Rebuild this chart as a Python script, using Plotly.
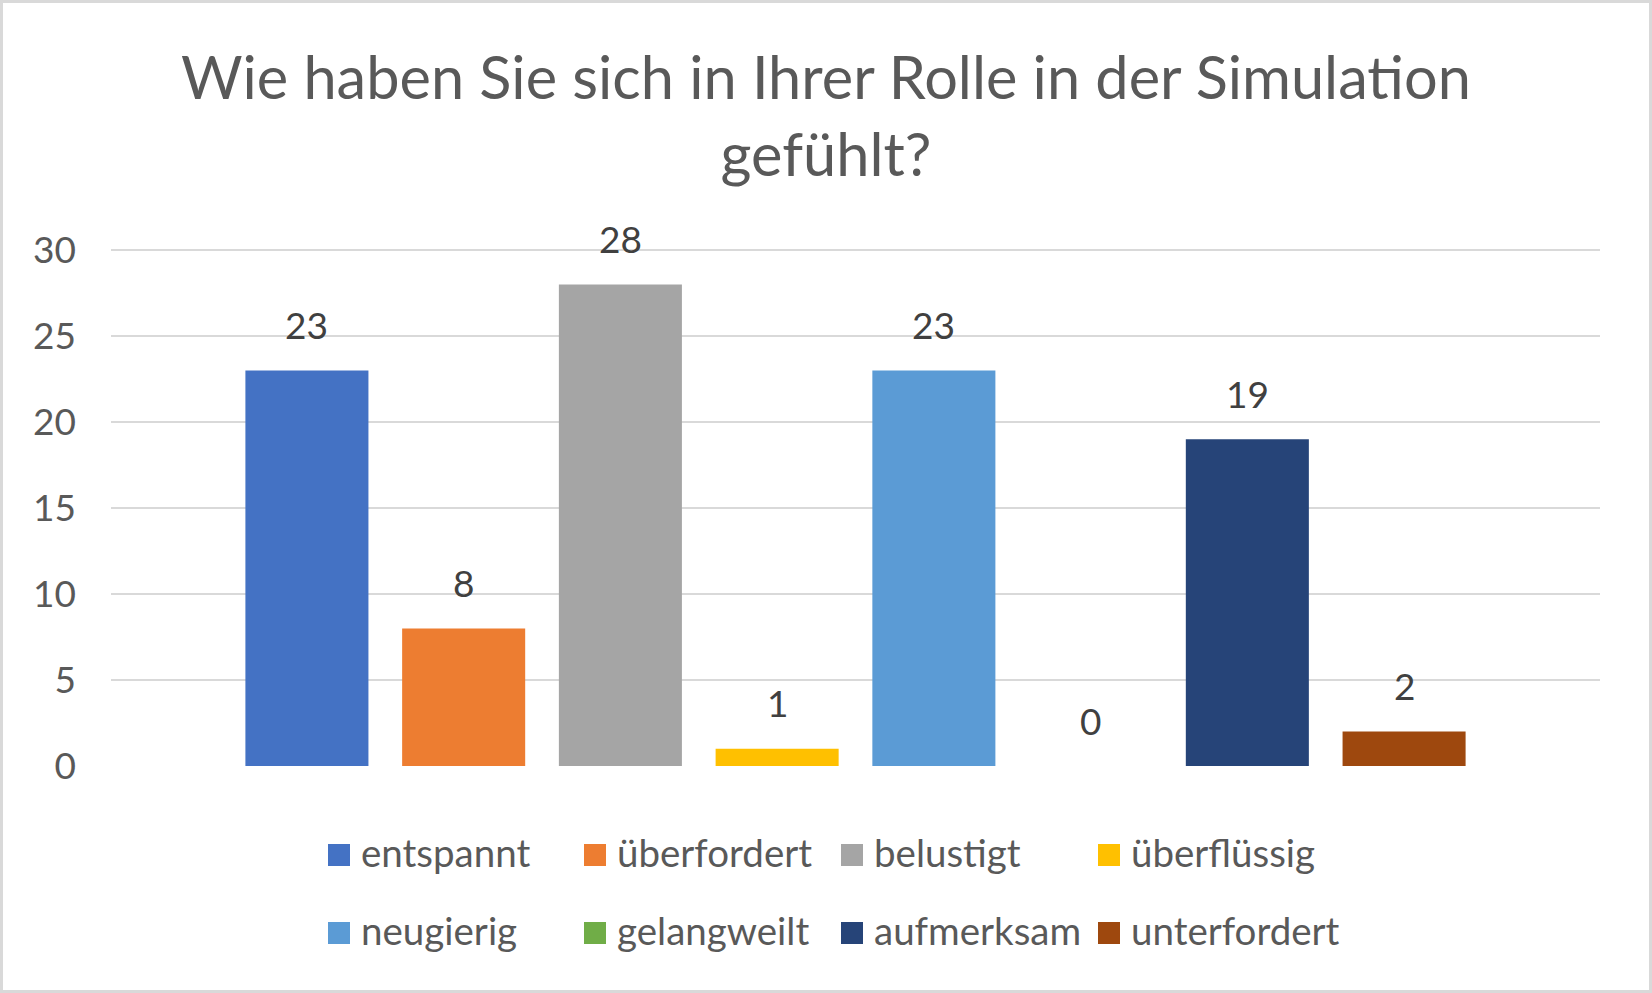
import plotly.graph_objects as go

categories = ["entspannt", "überfordert", "belustigt", "überflüssig",
              "neugierig", "gelangweilt", "aufmerksam", "unterfordert"]
values = [23, 8, 28, 1, 23, 0, 19, 2]
colors = ["#4472C4", "#ED7D31", "#A5A5A5", "#FFC000",
          "#5B9BD5", "#70AD47", "#264478", "#9E480E"]
title_text = "Wie haben Sie sich in Ihrer Rolle in der Simulation<br>gefühlt?"
y_ticks = [0, 5, 10, 15, 20, 25, 30]

W, H = 1652, 993
ML, MR, MT, MB = 111, 52, 249, 227
PW, PH = W - ML - MR, H - MT - MB
FONT = "Lato"
GREY = "#595959"


def px_x(px):
    return (px - ML) / PW


def px_y(py):
    return (H - MB - py) / PH


fig = go.Figure()
for i, (cat, val, col) in enumerate(zip(categories, values, colors)):
    fig.add_trace(go.Bar(x=[cat], y=[val], name=cat, marker_color=col,
                         marker_line_width=0,
                         width=0.785, showlegend=False, hoverinfo="x+y"))
    fig.add_annotation(x=cat, y=val, text=str(val), showarrow=False,
                       yanchor="middle", yshift=46,
                       font=dict(family=FONT, size=37, color="#404040"))

# manual legend (2 rows x 4 columns)
col_x = [328, 584, 841, 1098]
row_y = [855, 933]
sw = 22
for i, cat in enumerate(categories):
    r, c = divmod(i, 4)
    x0 = col_x[c]
    yc = row_y[r]
    fig.add_shape(type="rect", xref="paper", yref="paper",
                  x0=px_x(x0), x1=px_x(x0 + sw), y0=px_y(yc + sw / 2), y1=px_y(yc - sw / 2),
                  fillcolor=colors[i], line=dict(width=0))
    fig.add_annotation(xref="paper", yref="paper", x=px_x(x0 + 31), y=px_y(yc - 3),
                       text=cat, showarrow=False, xanchor="left", yanchor="middle",
                       font=dict(family=FONT, size=38.5, color=GREY))

# outer border
fig.add_shape(type="rect", xref="paper", yref="paper",
              x0=px_x(1.5), x1=px_x(W - 1.5), y0=px_y(H - 1.5), y1=px_y(1.5),
              line=dict(color="#D9D9D9", width=3), fillcolor="rgba(0,0,0,0)", layer="below")

fig.update_layout(
    width=W, height=H,
    margin=dict(l=ML, r=MR, t=MT, b=MB, pad=0),
    paper_bgcolor="white", plot_bgcolor="white",
    title=dict(text=title_text, x=0.5, xanchor="center", xref="container",
               y=1 - 99 / H, yref="container", yanchor="middle",
               font=dict(family=FONT, size=59.5, color=GREY)),
    showlegend=False,
    font=dict(family=FONT, color=GREY),
)
fig.update_xaxes(type="category", categoryorder="array", categoryarray=categories,
                 range=[-1.25, 8.25], showticklabels=False, showgrid=False,
                 zeroline=False, showline=False, ticks="")
fig.update_yaxes(range=[0, 30.06], tickvals=y_ticks, showgrid=True, gridcolor="#D9D9D9",
                 gridwidth=2, zeroline=False, showline=False, ticks="",
                 ticklabelstandoff=34,
                 tickfont=dict(family=FONT, size=37, color=GREY))

fig.write_html("out.html", config={"displayModeBar": False},
               post_script="document.body.style.margin='0';")
